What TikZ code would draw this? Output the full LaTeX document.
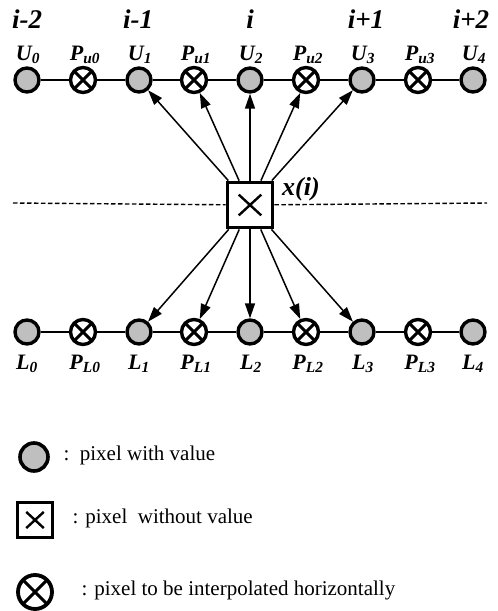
\documentclass[tikz,border=0pt]{standalone}
\usepackage{fontspec}
\setmainfont{Liberation Serif}
\usetikzlibrary{arrows.meta}
\newcommand\lab[2]{\textbf{\textit{#1\textsubscript{#2}}}}
\begin{document}
\begin{tikzpicture}[x=1pt,y=-1pt,
  val/.style={circle,draw,line width=3.4pt,fill=gray!50,minimum size=24pt,inner sep=0pt},
  itp/.style={circle,draw,line width=3.4pt,fill=white,minimum size=#1,inner sep=0pt,
    path picture={\draw[line width=3pt]
      ([xshift=-20pt,yshift=-20pt]path picture bounding box.center) -- ([xshift=20pt,yshift=20pt]path picture bounding box.center)
      ([xshift=-20pt,yshift=20pt]path picture bounding box.center) -- ([xshift=20pt,yshift=-20pt]path picture bounding box.center);}},
  itp/.default=25pt,
  nobox/.style={rectangle,draw,line width=3.8pt,fill=white,minimum size=#1,inner sep=0pt,
    path picture={\draw[line width=2.4pt]
      ([xshift=-0.25*#1,yshift=-0.23*#1]path picture bounding box.center) -- ([xshift=0.25*#1,yshift=0.23*#1]path picture bounding box.center)
      ([xshift=-0.25*#1,yshift=0.23*#1]path picture bounding box.center) -- ([xshift=0.25*#1,yshift=-0.23*#1]path picture bounding box.center);}},
  idx/.style={font=\fontsize{27}{30}\selectfont\bfseries\itshape},
  nl/.style={font=\fontsize{22}{26}\selectfont},
  leg/.style={font=\fontsize{21}{25}\selectfont,anchor=west},
  hl/.style={line width=1.6pt},
  arr/.style={line width=1.5pt,-{Triangle[length=15pt,width=10pt]}},
  dl/.style={line width=1.4pt,dash pattern=on 4.5pt off 2.5pt}]
\useasboundingbox (0,0) rectangle (498,611);
% dashed line and box
\coordinate (dL) at (13,203);
\coordinate (dR) at (487,203);
\node[nobox=45pt] (X) at (250,205) {};
\draw[dl] (dL) -- (X);
\draw[dl] (X) -- (dR);
\node[idx,font=\fontsize{26}{28}\selectfont\bfseries\itshape] (xl) at (301,189) {x(i)};
% top row
\node[val] (U0) at (27,80) {};
\node[itp] (Pu0) at (83,80) {};
\node[val] (U1) at (139,80) {};
\node[itp] (Pu1) at (194,80) {};
\node[val] (U2) at (250,80) {};
\node[itp] (Pu2) at (306,80) {};
\node[val] (U3) at (362,80) {};
\node[itp] (Pu3) at (418,80) {};
\node[val] (U4) at (473,80) {};
% bottom row
\node[val] (L0) at (27,332) {};
\node[itp] (PL0) at (83,332) {};
\node[val] (L1) at (139,332) {};
\node[itp] (PL1) at (194,332) {};
\node[val] (L2) at (250,332) {};
\node[itp] (PL2) at (306,332) {};
\node[val] (L3) at (362,332) {};
\node[itp] (PL3) at (418,332) {};
\node[val] (L4) at (473,332) {};
% horizontal lines
\draw[hl] (U0)--(Pu0); \draw[hl] (Pu0)--(U1); \draw[hl] (U1)--(Pu1); \draw[hl] (Pu1)--(U2);
\draw[hl] (U2)--(Pu2); \draw[hl] (Pu2)--(U3); \draw[hl] (U3)--(Pu3); \draw[hl] (Pu3)--(U4);
\draw[hl] (L0)--(PL0); \draw[hl] (PL0)--(L1); \draw[hl] (L1)--(PL1); \draw[hl] (PL1)--(L2);
\draw[hl] (L2)--(PL2); \draw[hl] (PL2)--(L3); \draw[hl] (L3)--(PL3); \draw[hl] (PL3)--(L4);
% arrows
\foreach \t in {U1,Pu1,U2,Pu2,U3,L1,PL1,L2,PL2,L3} {\draw[arr] (X) -- (\t);}
% index labels
\node[idx] (i0) at (27,19) {i-2};
\node[idx] (i1) at (138,19) {i-1};
\node[idx] (i2) at (250,19) {i};
\node[idx] (i3) at (366,19) {i+1};
\node[idx] (i4) at (471,19) {i+2};
% top labels
\node[nl] (tU0) at (28,55) {\lab{U}{0}};
\node[nl] (tP0) at (85,55) {\lab{P}{u0}};
\node[nl] (tU1) at (140,55) {\lab{U}{1}};
\node[nl] (tP1) at (196,55) {\lab{P}{u1}};
\node[nl] (tU2) at (251,55) {\lab{U}{2}};
\node[nl] (tP2) at (308,55) {\lab{P}{u2}};
\node[nl] (tU3) at (363,55) {\lab{U}{3}};
\node[nl] (tP3) at (420,55) {\lab{P}{u3}};
\node[nl] (tU4) at (474,55) {\lab{U}{4}};
% bottom labels
\node[nl] (bL0) at (27,364) {\lab{L}{0}};
\node[nl] (bP0) at (85,364) {\lab{P}{L0}};
\node[nl] (bL1) at (139,364) {\lab{L}{1}};
\node[nl] (bP1) at (196,364) {\lab{P}{L1}};
\node[nl] (bL2) at (251,364) {\lab{L}{2}};
\node[nl] (bP2) at (308,364) {\lab{P}{L2}};
\node[nl] (bL3) at (363,364) {\lab{L}{3}};
\node[nl] (bP3) at (420,364) {\lab{P}{L3}};
\node[nl] (bL4) at (473,364) {\lab{L}{4}};
% legend
\node[val,minimum size=28pt,line width=3.6pt] (g1) at (34,457) {};
\node[leg] (t1) at (60,455) {:\ \ pixel with value};
\node[nobox=35pt] (g2) at (35,520) {};
\node[leg] (t2) at (69,518) {: pixel\ \ without value};
\node[itp=34pt,line width=3.8pt] (g3) at (35,592) {};
\node[leg] (t3) at (78,590) {: pixel to be interpolated horizontally};
\end{tikzpicture}
\end{document}
